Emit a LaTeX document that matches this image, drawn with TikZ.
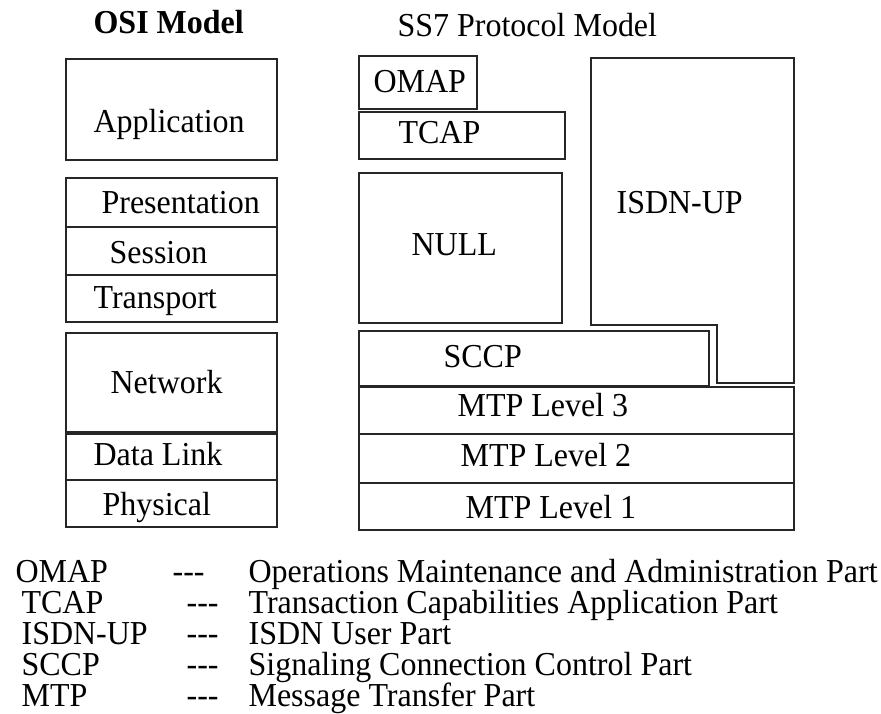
\documentclass[tikz,border=0pt]{standalone}
\usepackage{fontspec}
\setmainfont[FakeStretch=0.955]{Liberation Serif}
\usetikzlibrary{positioning}

\begin{document}
\begin{tikzpicture}[x=1pt,y=-1pt,line width=1.2pt,
        every node/.style={inner sep=0pt,anchor=base west,
          font=\fontsize{33.5}{38}\selectfont},
        layer/.style={draw=black!85}]
        \useasboundingbox(0,0)rectangle(881,713);
        % titles
        \node(osi)at(93,33){\bfseries OSI Model};
        \node(ss7)at(397,36){SS7 Protocol Model};
        % OSI stack
        \draw[layer](66,59)rectangle(277,160);
        \draw[layer](66,178)rectangle(277,227);
        \draw[layer](66,227)rectangle(277,275);
        \draw[layer](66,275)rectangle(277,322);
        \draw[layer](66,333)rectangle(277,432);
        \draw[layer](66,434)rectangle(277,480);
        \draw[layer](66,480)rectangle(277,527);
        \node(app)at(93,132){Application};
        \node(pres)at(101,213){Presentation};
        \node(sess)at(109,263){Session};
        \node(trans)at(93,308){Transport};
        \node(net)at(110,393){Network};
        \node(link)at(93,465){Data Link};
        \node(phys)at(102,515){Physical};
        % SS7 stack
        \draw[layer](359,56)rectangle(477,109);
        \draw[layer](359,112)rectangle(565,159);
        \draw[layer](359,173)rectangle(562,323);
        \draw[layer](591,58)--(794,58)--(794,383)--(717,383)--(717,325)--(591,325)--cycle;
        \draw[layer](359,331)rectangle(709,386);
        \draw[layer](359,387)rectangle(794,434);
        \draw[layer](359,434)rectangle(794,483);
        \draw[layer](359,483)rectangle(794,530);
        \node(omap)at(373,92){OMAP};
        \node(tcap)at(398,143){TCAP};
        \node(null)at(411,255){NULL};
        \node(isup)at(616,213){ISDN-UP};
        \node(sccp)at(443,367){SCCP};
        \node(mtpc)at(457,416){MTP Level 3};
        \node(mtpb)at(460,466){MTP Level 2};
        \node(mtpa)at(465,518){MTP Level 1};
        % legend
        \node(kA)at(15,582){OMAP};
        \node at(172,582){-{}-{}-};
        \node(dA)at(248,582){Operations Maintenance and Administration Part};
        \foreach \abbr/\text [count=\i] in {TCAP/Transaction Capabilities Application Part,
            ISDN-UP/ISDN User Part,SCCP/Signaling Connection Control Part,
            MTP/Message Transfer Part}{
          \node(k\i)at(21,582+31*\i){\abbr};
          \node at(186,582+31*\i){-{}-{}-};
          \node(d\i)at(248,582+31*\i){\text};
        }
     \end{tikzpicture}
\end{document}
